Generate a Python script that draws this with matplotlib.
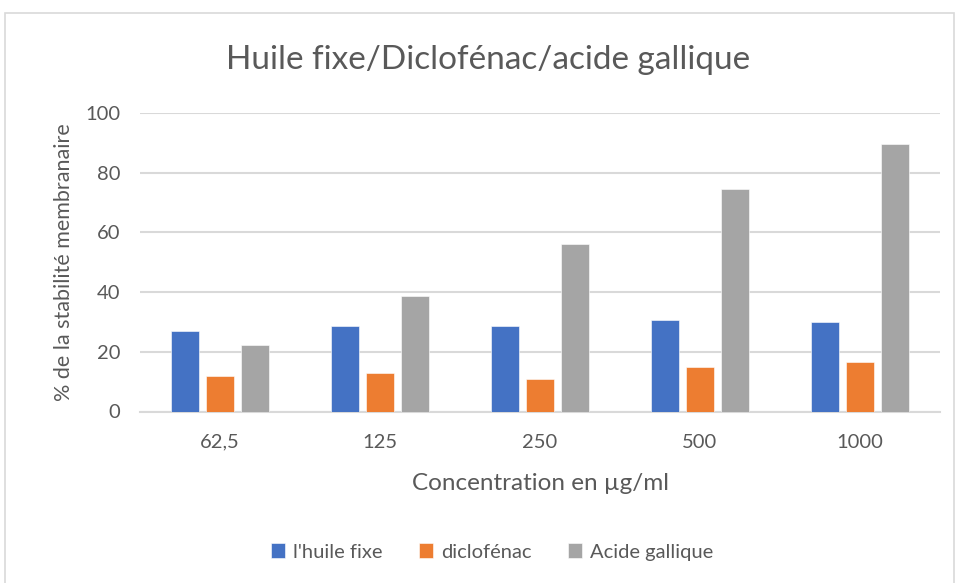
import numpy as np
import matplotlib
matplotlib.use("Agg")
import matplotlib.pyplot as plt
from matplotlib.patches import Rectangle

# data
concentrations = ['62,5', '125', '250', '500', '1000']
huile_fixe = [27, 28.6, 28.6, 30.8, 30]
diclofenac = [12, 12.8, 11, 14.8, 16.6]
acide_gallique = [22.3, 38.7, 56.2, 74.7, 89.7]

series_names = ["l'huile fixe", 'diclofénac', 'Acide gallique']
colors = ['#4472C4', '#ED7D31', '#A5A5A5']

plt.rcParams['font.family'] = ['Lato', 'DejaVu Sans']
txt = '#595959'

fig = plt.figure(figsize=(9.56, 5.83), dpi=100)
ax = fig.add_axes([140/956, 1 - 411.5/583, 800/956, 298.5/583])

# outer chart border (right part is cut off in the original)
fig.patches.append(Rectangle((5/956, -0.01), 949/956, 1 - 13/583 + 0.01,
                             transform=fig.transFigure, fill=False,
                             edgecolor='#d9d9d9', linewidth=1.2))

x = np.arange(len(concentrations))
width = 0.175
step = 0.219
for i, (vals, name, c) in enumerate(zip([huile_fixe, diclofenac, acide_gallique],
                                        series_names, colors)):
    ax.bar(x + (i - 1) * step, vals, width, color=c, label=name, zorder=3,
           edgecolor='white', linewidth=0.4)

ax.set_xlim(-0.5, len(concentrations) - 0.5)
ax.set_ylim(0, 100)
ax.set_yticks(range(0, 101, 20))
ax.set_xticks(x)
ax.set_xticklabels(concentrations)
ax.grid(axis='y', color='#d9d9d9', linewidth=1.5, zorder=0)
for s in ['top', 'right', 'left']:
    ax.spines[s].set_visible(False)
ax.spines['bottom'].set_color('#d9d9d9')
ax.spines['bottom'].set_linewidth(1.5)
ax.tick_params(axis='both', length=0, labelsize=14.5, colors=txt)
ax.tick_params(axis='y', pad=14)
ax.tick_params(axis='x', pad=16)

ax.set_xlabel('Concentration en µg/ml', fontsize=17.5, color=txt, labelpad=16)
ax.set_ylabel('% de la stabilité membranaire', fontsize=15.5, color=txt, labelpad=8)
fig.text(488/956, 1 - 60/583, 'Huile fixe/Diclofénac/acide gallique', ha='center',
         va='center', fontsize=24, color=txt)

fig.legend(loc='center', bbox_to_anchor=(492/956, 1 - 552/583),
           ncol=3, frameon=False, fontsize=14.5, labelcolor=txt,
           handlelength=0.7, handleheight=0.7, handletextpad=0.4, columnspacing=1.8)

fig.savefig('out.png', dpi=100)
